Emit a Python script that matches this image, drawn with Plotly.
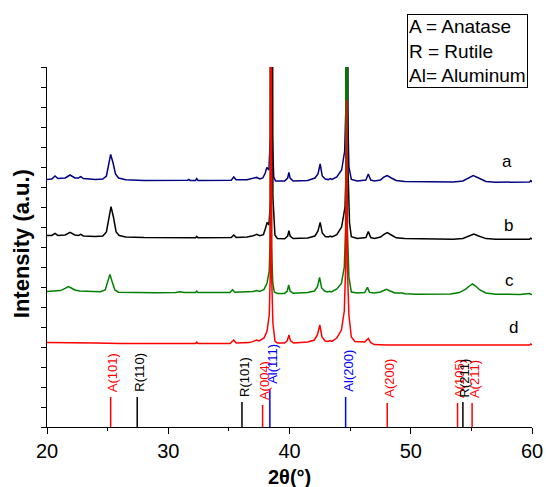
import plotly.graph_objects as go

# ---- XRD patterns (2θ, stacked intensity) ----
a_x = [20.0, 20.4, 20.66, 20.9, 21.5, 21.9, 22.3, 22.6, 22.78, 23.0, 24.0, 24.6, 24.9, 25.1, 25.25, 25.45, 25.65, 25.9,
       26.5, 28, 30, 31.6, 31.7, 31.8, 32.25, 32.35, 32.45, 35.2, 35.4, 35.6, 36.5, 37.0, 37.3, 37.55, 37.8, 38.0, 38.13,
       38.3, 38.42, 38.5, 38.58, 38.7, 38.85, 39.6, 39.85, 39.95, 40.05, 40.3, 41.5, 42.1, 42.35, 42.53, 42.7, 42.95, 43.2,
       43.36, 43.5, 43.9, 44.3, 44.55, 44.65, 44.72, 44.79, 44.9, 45.1, 45.6, 46.3, 46.5, 46.7, 47.0, 47.5, 47.8, 48.06,
       48.4, 48.8, 49.5, 50.5, 52, 53.5, 54.3, 54.7, 55.15, 55.6, 56.2, 57, 59.0, 59.8, 59.9, 60]
a_y = [12.38, 12.40, 12.55, 12.42, 12.45, 12.60, 12.45, 12.45, 12.52, 12.42, 12.37, 12.40, 12.55, 13.2, 13.63, 13.2, 12.65, 12.45,
       12.36, 12.33, 12.32, 12.34, 12.38, 12.33, 12.33, 12.42, 12.33, 12.34, 12.50, 12.36, 12.36, 12.42, 12.48, 12.40, 12.45, 12.7, 12.98,
       12.85, 14.5, 40, 14.5, 12.5, 12.30, 12.30, 12.45, 12.73, 12.45, 12.30, 12.33, 12.45, 12.65, 13.15, 12.55, 12.40, 12.37,
       12.42, 12.38, 12.5, 12.85, 13.8, 16, 40, 16, 13.0, 12.38, 12.30, 12.35, 12.65, 12.35, 12.30, 12.35, 12.5, 12.57,
       12.45, 12.33, 12.28, 12.27, 12.24, 12.25, 12.30, 12.42, 12.57, 12.45, 12.28, 12.24, 12.24, 12.25, 12.32, 12.25]

b_x = [20.0, 20.4, 20.66, 20.9, 21.5, 21.9, 22.3, 22.6, 22.78, 23.0, 24.0, 24.6, 24.9, 25.1, 25.28, 25.48, 25.7, 25.95,
       26.5, 28, 30, 32.25, 32.35, 32.45, 35.2, 35.4, 35.6, 36.5, 37.0, 37.3, 37.55, 37.85, 38.0, 38.15, 38.3, 38.46, 38.55,
       38.63, 38.8, 39.0, 39.6, 39.85, 39.95, 40.05, 40.3, 41.5, 42.1, 42.35, 42.53, 42.7, 42.95, 43.2, 43.36, 43.5, 43.9,
       44.3, 44.58, 44.68, 44.75, 44.82, 44.95, 45.1, 45.6, 46.3, 46.5, 46.7, 47.0, 47.5, 47.8, 48.06, 48.4, 48.8, 49.5,
       50.5, 52, 53.5, 54.3, 54.8, 55.2, 55.6, 56.2, 57, 59.0, 59.8, 59.9, 60]
b_y = [9.57, 9.58, 9.68, 9.58, 9.60, 9.73, 9.60, 9.58, 9.63, 9.55, 9.52, 9.55, 9.75, 10.5, 11.02, 10.5, 9.75, 9.57,
       9.50, 9.47, 9.46, 9.46, 9.53, 9.46, 9.47, 9.60, 9.48, 9.50, 9.56, 9.63, 9.56, 9.62, 9.9, 10.23, 10.1, 11.5, 40,
       11.5, 9.6, 9.43, 9.41, 9.55, 9.82, 9.55, 9.42, 9.45, 9.55, 9.8, 10.23, 9.7, 9.52, 9.50, 9.55, 9.50, 9.62,
       10.0, 11.0, 13.0, 40, 13.0, 10.2, 9.52, 9.43, 9.47, 9.77, 9.47, 9.43, 9.50, 9.63, 9.72, 9.60, 9.46, 9.42,
       9.42, 9.39, 9.39, 9.43, 9.55, 9.65, 9.55, 9.42, 9.39, 9.39, 9.39, 9.44, 9.39]

c_x = [20.0, 20.6, 21.1, 21.5, 21.76, 22.0, 22.3, 22.7, 23.5, 24.4, 24.8, 25.0, 25.19, 25.38, 25.6, 25.9, 27, 29, 30.6,
       30.97, 31.3, 32.25, 32.35, 32.45, 35.1, 35.3, 35.5, 36.6, 37.0, 37.28, 37.55, 37.9, 38.15, 38.33, 38.4, 38.45, 38.52,
       38.62, 38.75, 39.0, 39.6, 39.82, 39.93, 40.05, 40.3, 41.5, 42.05, 42.3, 42.48, 42.65, 42.9, 43.15, 43.3, 43.45, 43.9,
       44.28, 44.52, 44.63, 44.7, 44.77, 44.9, 45.1, 45.6, 46.2, 46.43, 46.6, 47.0, 47.5, 47.75, 47.99, 48.3, 48.7, 49.3,
       49.5, 50.5, 52, 53.3, 54.0, 54.5, 54.85, 55.09, 55.35, 55.7, 56.2, 57, 59.0, 59.7, 59.78, 59.9, 60]
c_y = [6.77, 6.78, 6.82, 6.93, 7.02, 6.95, 6.85, 6.80, 6.77, 6.76, 6.85, 7.25, 7.63, 7.25, 6.85, 6.74, 6.72, 6.71, 6.72,
       6.76, 6.72, 6.72, 6.79, 6.72, 6.73, 6.86, 6.74, 6.75, 6.78, 6.82, 6.78, 6.88, 7.2, 7.8, 9.5, 40, 9.0,
       7.2, 6.75, 6.68, 6.68, 6.80, 7.10, 6.80, 6.69, 6.72, 6.80, 7.0, 7.48, 6.95, 6.80, 6.75, 6.78, 6.75, 6.90,
       7.18, 8.0, 10, 40, 10, 7.5, 6.75, 6.70, 6.72, 6.98, 6.73, 6.70, 6.75, 6.83, 6.88, 6.80, 6.70, 6.70,
       6.66, 6.64, 6.63, 6.65, 6.72, 6.88, 7.05, 7.15, 7.05, 6.85, 6.70, 6.64, 6.63, 6.65, 6.68, 6.64, 6.63]

d_x = [20.0, 22, 24, 26, 28, 30, 32.25, 32.35, 32.45, 35.1, 35.4, 35.6, 36.7, 37.0, 37.28, 37.5, 37.9, 38.15, 38.33, 38.41,
       38.47, 38.53, 38.63, 38.8, 39.0, 39.6, 39.82, 39.95, 40.08, 40.35, 41.5, 42.05, 42.3, 42.5, 42.68, 42.95, 43.2, 43.33,
       43.5, 43.9, 44.28, 44.52, 44.63, 44.7, 44.77, 44.9, 45.1, 45.4, 46.2, 46.5, 46.7, 47.0, 48, 50, 52, 55, 58, 59.8,
       59.9, 60]
d_y = [4.22, 4.22, 4.20, 4.18, 4.18, 4.17, 4.17, 4.24, 4.17, 4.17, 4.35, 4.20, 4.22, 4.28, 4.35, 4.30, 4.45, 4.8, 5.6, 7.5,
       40, 7.5, 5.2, 4.3, 4.2, 4.2, 4.32, 4.6, 4.32, 4.2, 4.25, 4.35, 4.6, 5.1, 4.5, 4.3, 4.28, 4.32,
       4.28, 4.45, 4.85, 5.8, 8.0, 16.35, 8.0, 5.6, 4.5, 4.28, 4.25, 4.43, 4.22, 4.12, 4.10, 4.10, 4.10, 4.10, 4.10, 4.10,
       4.15, 4.10]

sample_names = ["a", "b", "c", "d"]
sample_label_x = [57.9, 58.1, 58.15, 58.45]
sample_label_y = [13.27, 10.1, 7.35, 5.0]

# ---- reference reflections ----
ref_pos = [25.25, 27.44, 36.08, 37.78, 38.38, 44.63, 48.06, 53.86, 54.3, 55.06]
ref_height = [1.5, 1.5, 1.25, 1.1, 1.9, 1.5, 1.2, 1.2, 1.25, 1.2]
ref_label = ["A(101)", "R(110)", "R(101)", "A(004)", "Al(111)", "Al(200)", "A(200)", "A(105)", "R(211)", "A(211)"]
ref_phase = ["A", "R", "R", "A", "Al", "Al", "A", "A", "R", "A"]

key_text = ["A = Anatase", "R = Rutile", "Al= Aluminum"]
x_title = "2θ(°)"
y_title = "Intensity (a.u.)"

FONT = "Arial, Liberation Sans, sans-serif"
phase_color = {"A": "#ff0000", "R": "#000000", "Al": "#0000ff"}
series_color = ["#000080", "#000000", "#008000", "#ff0000"]

fig = go.Figure()

for xs, ys, col in zip([a_x, b_x, c_x, d_x], [a_y, b_y, c_y, d_y], series_color):
    fig.add_trace(go.Scatter(x=xs, y=ys, mode="lines", line=dict(color=col, width=1.5),
                             showlegend=False, hoverinfo="skip"))

for ph in ["A", "R", "Al"]:
    sx, sy = [], []
    for p, h, f in zip(ref_pos, ref_height, ref_phase):
        if f == ph:
            sx += [p, p, None]
            sy += [0, h, None]
    fig.add_trace(go.Scatter(x=sx, y=sy, mode="lines", line=dict(color=phase_color[ph], width=1.5),
                             showlegend=False, hoverinfo="skip"))

for p, h, lab, f in zip(ref_pos, ref_height, ref_label, ref_phase):
    fig.add_annotation(x=p, y=h, text=lab, textangle=-90, showarrow=False,
                       xanchor="center", yanchor="bottom", xshift=2, yshift=3,
                       font=dict(family=FONT, size=13, color=phase_color[f]))

for n, lx, ly in zip(sample_names, sample_label_x, sample_label_y):
    fig.add_annotation(x=lx, y=ly, text=n, showarrow=False, xanchor="center", yanchor="middle",
                       font=dict(family=FONT, size=17, color="#000000"))

fig.add_annotation(xref="paper", yref="paper", x=0.742, y=1.148, xanchor="left", yanchor="top",
                   text="<br>".join(key_text), align="left", showarrow=False,
                   bordercolor="#000000", borderwidth=1, borderpad=1, bgcolor="#ffffff",
                   font=dict(family=FONT, size=19, color="#000000"))

# axis titles
fig.add_annotation(xref="paper", yref="paper", x=0.5, y=-0.139, xanchor="center", yanchor="middle",
                   text="<b>" + x_title + "</b>", showarrow=False,
                   font=dict(family=FONT, size=20, color="#000000"))
fig.add_annotation(xref="paper", yref="paper", x=-0.052, y=0.51, xanchor="center", yanchor="middle",
                   text="<b>" + y_title + "</b>", textangle=-90, showarrow=False,
                   font=dict(family=FONT, size=22, color="#000000"))

fig.update_layout(
    width=546, height=487,
    margin=dict(l=47, r=14, t=67, b=60),
    paper_bgcolor="#ffffff", plot_bgcolor="#ffffff",
    font=dict(family=FONT, color="#000000"),
    xaxis=dict(range=[20, 60], dtick=10, tick0=20, showline=True, linecolor="#000000", linewidth=1,
               ticks="outside", ticklen=6, tickcolor="#000000", showgrid=False, zeroline=False,
               automargin=False,
               tickfont=dict(family=FONT, size=20, color="#000000"),
               minor=dict(dtick=5, ticks="outside", ticklen=3, tickcolor="#000000")),
    yaxis=dict(range=[0, 18], dtick=1, tick0=0, showline=True, linecolor="#000000", linewidth=1,
               ticks="outside", ticklen=5, tickcolor="#000000", showgrid=False, zeroline=False,
               showticklabels=False, automargin=False),
)

fig.write_html("out.html", config={"displayModeBar": False},
               post_script="document.body.style.margin='0';")
